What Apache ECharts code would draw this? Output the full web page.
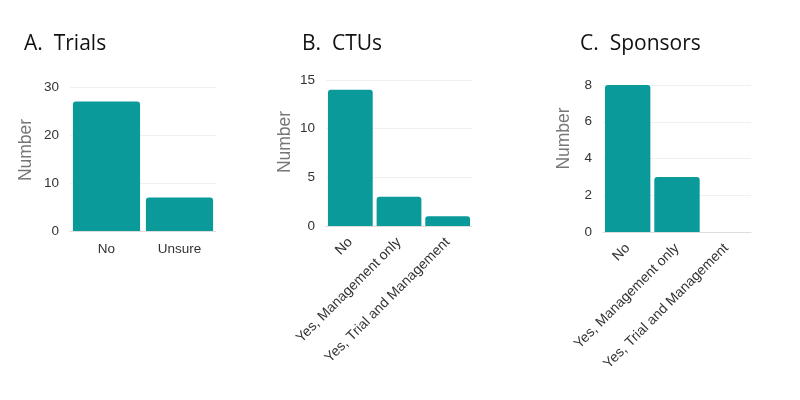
<!DOCTYPE html>
<html>
<head>
<meta charset="utf-8">
<script src="https://cdn.jsdelivr.net/npm/echarts@6/dist/echarts.min.js"></script>
<style>
  html, body { margin: 0; padding: 0; background: #fff; }
  #chart { width: 800px; height: 400px; }
</style>
</head>
<body>
<div id="chart"></div>
<script>
// panel A: trials
const trialsCategories = ['No', 'Unsure']
const trialsValues = [27, 7]
// panel B: CTUs
const ctuCategories = ['No', 'Yes, Management only', 'Yes, Trial and Management']
const ctuValues = [14, 3, 1]
// panel C: sponsors
const sponsorCategories = ['No', 'Yes, Management only', 'Yes, Trial and Management']
const sponsorValues = [8, 3, 0]

const panelTitles = ['A.  Trials', 'B.  CTUs', 'C.  Sponsors']
const yMax = [30, 15, 8]
const yStep = [10, 5, 2]

const barColor = '#0a9a9a'
const labelFont = 'Liberation Sans, Arial, sans-serif'

const grids = [
  { left: 70, top: 87, width: 146, height: 144 },
  { left: 326, top: 80, width: 146, height: 146 },
  { left: 603, top: 85, width: 148, height: 147 }
]
const titlePos = [[24, 34], [302, 34], [580, 34]]
const nameGaps = [35, 32, 30]
// "Number" sits above the middle of each axis
const nameShift = [18, 22, 40]
const cats = [trialsCategories, ctuCategories, sponsorCategories]
const vals = [trialsValues, ctuValues, sponsorValues]

const chart = echarts.init(document.getElementById('chart'), null, { renderer: 'canvas' })

const option = {
  animation: false,
  backgroundColor: '#fff',
  title: panelTitles.map((t, i) => ({
    text: t,
    left: titlePos[i][0],
    top: titlePos[i][1],
    padding: 0,
    textStyle: { fontFamily: 'Open Sans, Noto Sans, sans-serif', fontSize: 21, fontWeight: 'normal', color: '#111' }
  })),
  grid: grids,
  xAxis: cats.map((c, i) => ({
    type: 'category',
    gridIndex: i,
    data: c,
    axisLine: { show: true, lineStyle: { color: '#ddd' } },
    axisTick: { show: false },
    axisLabel: {
      interval: 0,
      rotate: i === 0 ? 0 : 45,
      margin: i === 0 ? 11 : 14,
      fontFamily: labelFont,
      fontSize: i === 0 ? 13.5 : 14,
      color: '#333'
    }
  })),
  yAxis: yMax.map((m, i) => ({
    type: 'value',
    gridIndex: i,
    min: 0,
    max: m,
    interval: yStep[i],
    name: 'Number',
    nameLocation: 'middle',
    nameGap: nameGaps[i],
    nameTextStyle: { fontFamily: labelFont, fontSize: 17.5, color: '#777', padding: [0, 0, 0, nameShift[i]] },
    axisLine: { show: false },
    axisTick: { show: false },
    splitLine: { lineStyle: { color: '#f0f0f0' } },
    axisLabel: { margin: 11, fontFamily: labelFont, fontSize: 13.5, color: '#333' }
  })),
  series: vals.map((v, i) => ({
    type: 'bar',
    xAxisIndex: i,
    yAxisIndex: i,
    data: v,
    barCategoryGap: '8%',
    itemStyle: { color: barColor, borderRadius: [3, 3, 0, 0] }
  }))
}

chart.setOption(option)
</script>
</body>
</html>
